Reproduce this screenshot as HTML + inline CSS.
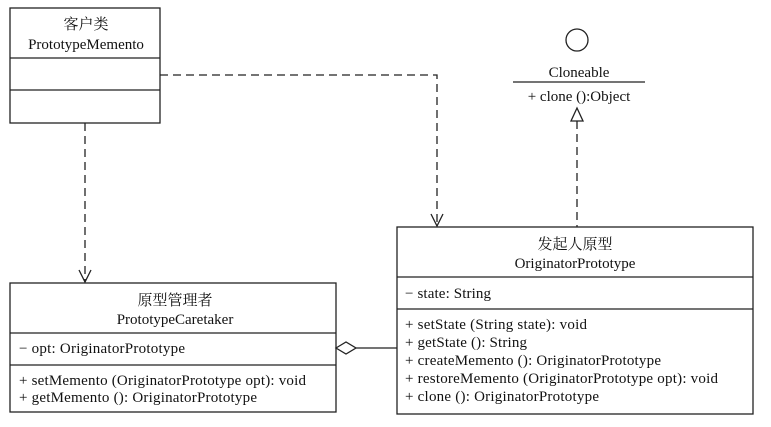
<!DOCTYPE html>
<html><head><meta charset="utf-8"><style>
body{margin:0;background:#fff;}
svg text{font-family:"Liberation Serif","Noto Serif CJK SC",serif;font-size:15px;fill:#111;}
</style></head><body>
<svg width="771" height="422" xmlns="http://www.w3.org/2000/svg">
<g fill="none" stroke="#222" stroke-width="1.3">
<rect x="10" y="8" width="150" height="115"/>
<line x1="10" y1="58" x2="160" y2="58"/><line x1="10" y1="90" x2="160" y2="90"/>
<rect x="397" y="227" width="356" height="187"/>
<line x1="397" y1="277" x2="753" y2="277"/><line x1="397" y1="309" x2="753" y2="309"/>
<rect x="10" y="283" width="326" height="129"/>
<line x1="10" y1="333" x2="336" y2="333"/><line x1="10" y1="365" x2="336" y2="365"/>
<circle cx="577" cy="40" r="11"/>
<line x1="513" y1="82" x2="645" y2="82"/>
<g stroke-dasharray="8,5">
<polyline points="160,75 437,75 437,226"/>
<line x1="85" y1="123" x2="85" y2="282"/>
<line x1="577" y1="121" x2="577" y2="227"/>
</g>
<polyline points="431,214 437,226 443,214"/>
<polyline points="79,270 85,282 91,270"/>
<polygon points="577,108 571,121 583,121"/>
<polygon points="336,348 346,342 356,348 346,354" fill="#fff"/>
<line x1="356" y1="348" x2="397" y2="348"/>
</g>
<g text-anchor="middle">
<text x="86" y="29">客户类</text><text x="86" y="49">PrototypeMemento</text>
<text x="579" y="77">Cloneable</text><text x="579" y="101">+ clone ():Object</text>
<text x="575" y="249">发起人原型</text><text x="575" y="268">OriginatorPrototype</text>
<text x="175" y="305">原型管理者</text><text x="175" y="324">PrototypeCaretaker</text>
</g>
<text x="405" y="298" textLength="86">− state: String</text>
<text x="405" y="329" textLength="182">+ setState (String state): void</text>
<text x="405" y="347" textLength="122">+ getState (): String</text>
<text x="405" y="365" textLength="256">+ createMemento (): OriginatorPrototype</text>
<text x="405" y="383" textLength="313">+ restoreMemento (OriginatorPrototype opt): void</text>
<text x="405" y="401" textLength="194">+ clone (): OriginatorPrototype</text>
<text x="19" y="353" textLength="166">− opt: OriginatorPrototype</text>
<text x="19" y="385" textLength="287">+ setMemento (OriginatorPrototype opt): void</text>
<text x="19" y="402" textLength="238">+ getMemento (): OriginatorPrototype</text>
</svg>
</body></html>
